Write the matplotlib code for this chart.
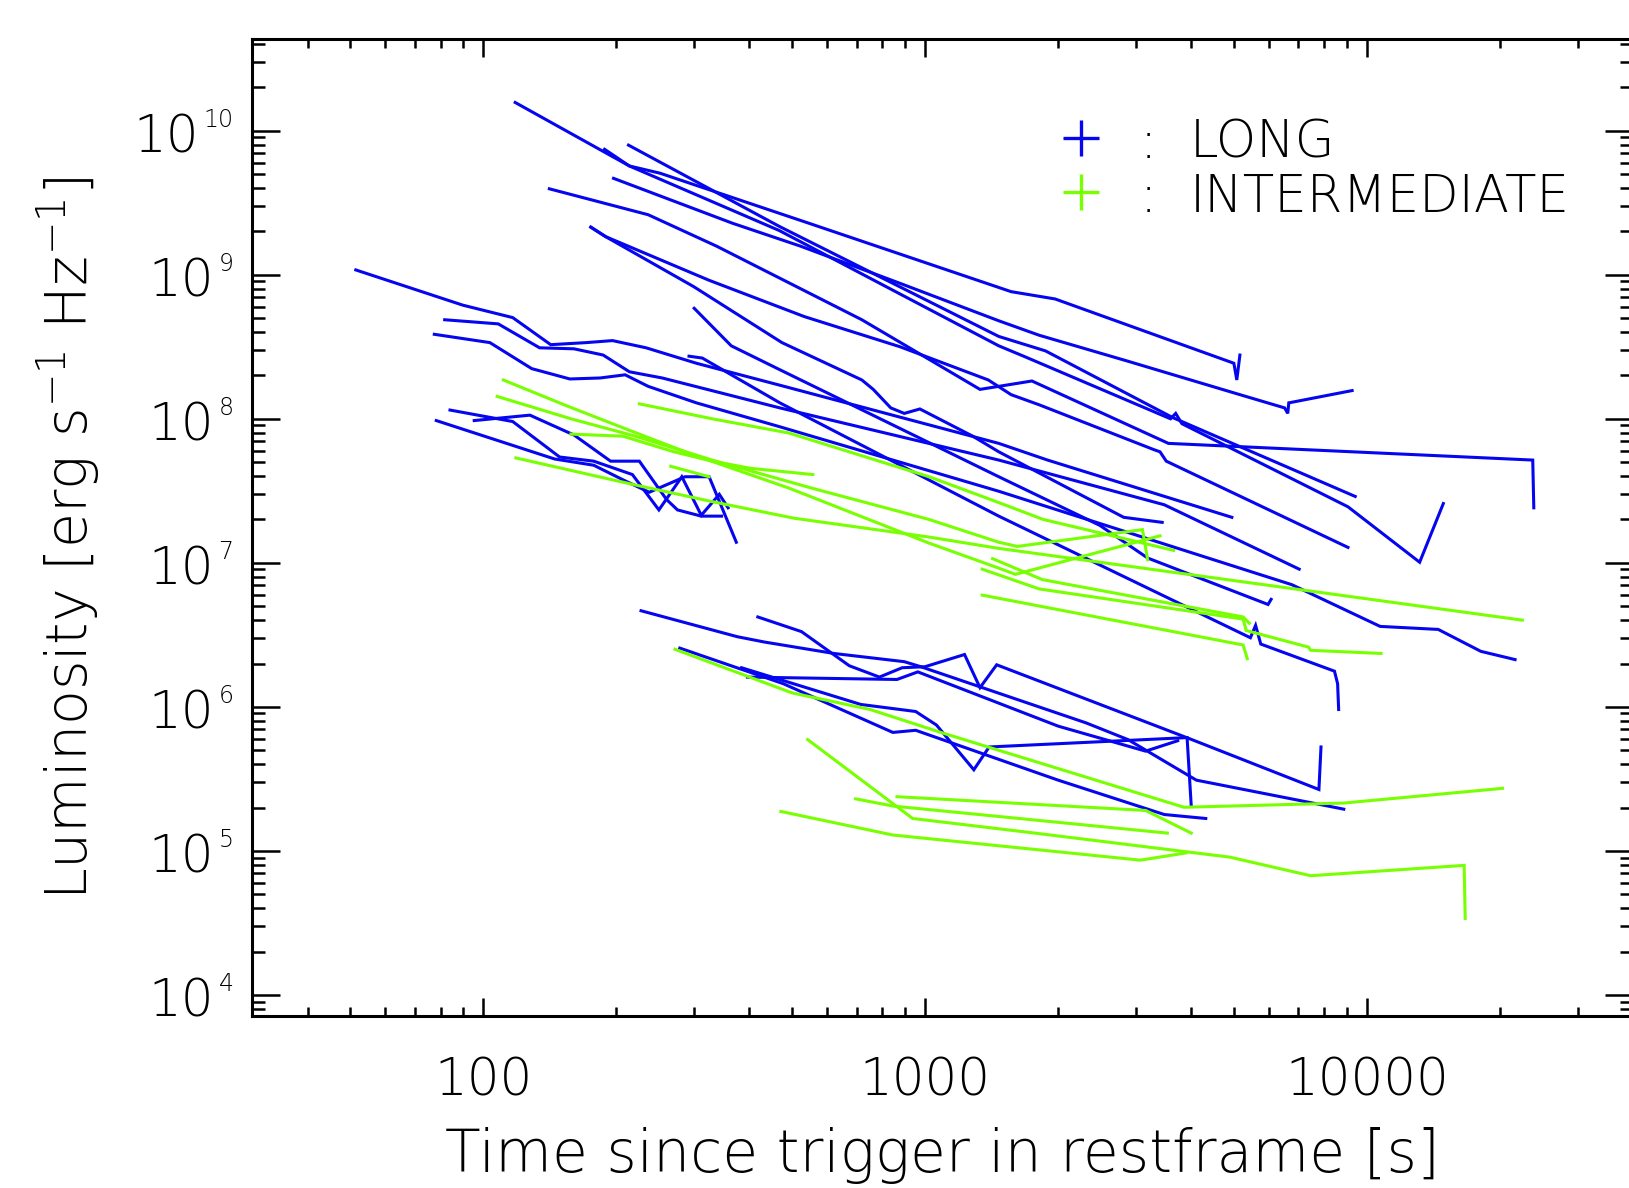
import numpy as np
import matplotlib.pyplot as plt
import matplotlib.transforms as mtransforms
from matplotlib.ticker import FixedLocator, LogLocator, NullFormatter

# light curves of LONG bursts (time in s, luminosity in erg/s/Hz)
lg01_t = [118, 214, 251, 545, 1566, 1969, 5000, 5077, 5160]
lg01_L = [1.57e10, 5.69e9, 5.07e9, 2.28e9, 7.63e8, 6.79e8, 2.43e8, 1.86e8, 2.77e8]
lg02_t = [188, 214, 467, 1468, 1671, 3594, 3692, 3813, 9063, 13170, 14900]
lg02_L = [7.43e9, 5.69e9, 2.03e9, 3.21e8, 2.72e8, 1.0e8, 1.09e8, 9.25e7, 2.45e7, 1.01e7, 2.58e7]
lg03_t = [213, 467, 1468, 1873, 3634, 9413]
lg03_L = [7.94e9, 2.17e9, 3.73e8, 2.96e8, 1.02e8, 2.89e7]
lg04_t = [197, 366, 522, 878, 1468, 1813, 2878, 5050, 6515, 6622, 6658, 9262]
lg04_L = [4.67e9, 2.28e9, 1.58e9, 8.71e8, 4.79e8, 3.80e8, 2.51e8, 1.50e8, 1.19e8, 1.09e8, 1.29e8, 1.57e8]
lg05_t = [141, 236, 337, 719, 1331, 1745, 3555, 23750, 23880]
lg05_L = [3.95e9, 2.61e9, 1.58e9, 4.87e8, 1.60e8, 1.83e8, 6.75e7, 5.17e7, 2.41e7]
lg06_t = [175, 189, 324, 533, 878, 1390, 1566, 1813, 3294, 3402, 3515, 9063]
lg06_L = [2.14e9, 1.84e9, 9.16e8, 5.12e8, 3.16e8, 1.86e8, 1.47e8, 1.25e8, 6.11e7, 5.90e7, 5.08e7, 1.28e7]
lg07_t = [175, 189, 299, 474, 719, 763, 836, 897, 973, 1282, 1468, 2816, 3441]
lg07_L = [2.14e9, 1.84e9, 8.28e8, 3.38e8, 1.86e8, 1.60e8, 1.19e8, 1.09e8, 1.17e8, 7.57e7, 5.90e7, 2.07e7, 1.91e7]
lg08_t = [300, 364, 469, 1468, 2486, 3190, 5975, 6072]
lg08_L = [5.85e8, 3.21e8, 2.19e8, 3.96e7, 1.82e7, 1.08e7, 5.14e6, 5.58e6]
lg09_t = [51.4, 89.8, 116.5, 142, 171, 196, 233.5, 303.5, 469, 1468, 1893, 4948]
lg09_L = [1.08e9, 6.15e8, 5.04e8, 3.27e8, 3.38e8, 3.49e8, 3.11e8, 2.43e8, 1.71e8, 6.75e7, 5.17e7, 2.07e7]
lg10_t = [292, 313, 469, 1468, 2433, 5450, 5600, 5753, 8448, 8587, 8634]
lg10_L = [2.72e8, 2.64e8, 1.29e8, 2.11e7, 9.98e6, 3.02e6, 3.68e6, 2.73e6, 1.77e6, 1.45e6, 9.59e5]
lg11_t = [81.7, 108, 134, 160.4, 186.7, 214, 254, 469, 1468, 3479, 7029]
lg11_L = [4.87e8, 4.56e8, 3.11e8, 3.06e8, 2.77e8, 2.12e8, 1.92e8, 1.19e8, 5.17e7, 2.53e7, 9.04e6]
lg12_t = [77.4, 103.4, 128.6, 156.9, 183.7, 209.3, 236, 303.5, 469, 1468, 6767, 10720, 14510, 18120, 21660]
lg12_L = [3.86e8, 3.38e8, 2.23e8, 1.89e8, 1.92e8, 2.02e8, 1.68e8, 1.29e8, 8.80e7, 3.14e7, 7.05e6, 3.62e6, 3.45e6, 2.43e6, 2.13e6]
lg13_t = [84, 116.5, 148.7, 177.7, 217.4, 249.6, 281.3, 311.3, 342, 358]
lg13_L = [1.15e8, 9.57e7, 5.43e7, 5.08e7, 4.10e7, 2.33e7, 3.96e7, 2.14e7, 2.99e7, 2.41e7]
lg14_t = [95.3, 127.4, 160.4, 194, 225.4, 259.8, 275, 311.3, 346]
lg14_L = [9.72e7, 1.06e8, 7.71e7, 5.08e7, 5.08e7, 2.75e7, 2.33e7, 2.11e7, 2.11e7]
lg15_t = [78.2, 144.9, 177.7, 207, 237.3, 286, 324.3, 373.7]
lg15_L = [9.72e7, 5.26e7, 4.76e7, 3.77e7, 3.09e7, 3.96e7, 3.96e7, 1.39e7]
lg16_t = [227.4, 375.7, 432.6, 621, 897, 978, 2318, 2878, 4113, 8867]
lg16_L = [4.65e6, 3.07e6, 2.82e6, 2.35e6, 2.06e6, 1.90e6, 7.73e5, 5.93e5, 3.10e5, 1.95e5]
lg17_t = [418, 525, 673.5, 788, 887, 999, 1228, 1331, 1452, 3960, 7790, 7875]
lg17_L = [4.21e6, 3.33e6, 1.93e6, 1.61e6, 1.87e6, 1.90e6, 2.31e6, 1.36e6, 1.96e6, 6.03e5, 2.67e5, 5.27e5]
lg18_t = [384, 715, 952, 1061, 1289, 1396, 3918, 4004]
lg18_L = [1.87e6, 1.04e6, 9.29e5, 7.48e5, 3.66e5, 5.27e5, 6.12e5, 2.05e5]
lg19_t = [278.3, 477, 845, 952, 2001, 3479, 4319]
lg19_L = [2.56e6, 1.45e6, 6.65e5, 6.88e5, 3.10e5, 1.79e5, 1.68e5]
lg20_t = [396, 863.5, 962.7, 2001, 3156, 3731]
lg20_L = [1.61e6, 1.55e6, 1.75e6, 7.35e5, 4.93e5, 5.82e5]

# light curves of INTERMEDIATE bursts
im01_t = [110.9, 154.4, 212.7, 298.6, 492, 1021, 1468, 1601, 3402]
im01_L = [1.86e8, 1.23e8, 8.38e7, 5.62e7, 3.30e7, 1.37e7, 9.19e6, 8.32e6, 1.54e7]
im02_t = [107.4, 157.8, 220.9, 329.5, 554, 1021, 1468, 1618, 3105, 3190]
im02_L = [1.43e8, 1.0e8, 7.57e7, 5.17e7, 3.30e7, 2.0e7, 1.39e7, 1.30e7, 1.70e7, 1.05e7]
im03_t = [157.8, 207, 270, 329.5, 402.5, 557]
im03_L = [7.83e7, 7.57e7, 5.90e7, 5.08e7, 4.53e7, 4.10e7]
im04_t = [225.4, 329.5, 492, 1021, 1468, 1852, 3654]
im04_L = [1.27e8, 1.0e8, 7.96e7, 3.96e7, 2.62e7, 2.0e7, 1.22e7]
im05_t = [118.4, 220.9, 329.5, 505.5, 1021, 1468, 2486, 7150, 22500]
im05_L = [5.35e7, 3.47e7, 2.66e7, 2.04e7, 1.51e7, 1.26e7, 1.01e7, 6.48e6, 4.0e6]
im06_t = [265.5, 324.3]
im06_L = [4.68e7, 3.96e7]
im07_t = [1421, 1842, 5247, 5420]
im07_L = [1.07e7, 7.65e6, 4.21e6, 3.81e6]
im08_t = [1346, 1813, 5247, 5333, 7379, 7460, 10770]
im08_L = [9.04e6, 6.59e6, 4.07e6, 3.39e6, 2.60e6, 2.47e6, 2.35e6]
im09_t = [1346, 5247, 5362]
im09_L = [5.97e6, 2.69e6, 2.16e6]
im10_t = [271.5, 500, 751, 1102, 3855, 8867, 20290]
im10_L = [2.51e6, 1.25e6, 9.59e5, 6.55e5, 2.01e5, 2.15e5, 2.72e5]
im11_t = [542, 937, 1772, 4892, 7460, 16610, 16700]
im11_L = [5.93e5, 1.68e5, 1.33e5, 9.06e4, 6.73e4, 7.94e4, 3.40e4]
im12_t = [471.4, 845, 3072, 3897]
im12_L = [1.88e5, 1.29e5, 8.63e4, 9.69e4]
im13_t = [696, 845, 3535]
im13_L = [2.30e5, 2.05e5, 1.33e5]
im14_t = [863.5, 3156, 4004]
im14_L = [2.38e5, 1.91e5, 1.33e5]

long_curves = [(lg01_t, lg01_L), (lg02_t, lg02_L), (lg03_t, lg03_L), (lg04_t, lg04_L),
               (lg05_t, lg05_L), (lg06_t, lg06_L), (lg07_t, lg07_L), (lg08_t, lg08_L),
               (lg09_t, lg09_L), (lg10_t, lg10_L), (lg11_t, lg11_L), (lg12_t, lg12_L),
               (lg13_t, lg13_L), (lg14_t, lg14_L), (lg15_t, lg15_L), (lg16_t, lg16_L),
               (lg17_t, lg17_L), (lg18_t, lg18_L), (lg19_t, lg19_L), (lg20_t, lg20_L)]
inter_curves = [(im01_t, im01_L), (im02_t, im02_L), (im03_t, im03_L), (im04_t, im04_L),
                (im05_t, im05_L), (im06_t, im06_L), (im07_t, im07_L), (im08_t, im08_L),
                (im09_t, im09_L), (im10_t, im10_L), (im11_t, im11_L), (im12_t, im12_L),
                (im13_t, im13_L), (im14_t, im14_L)]

x_ticks = [100, 1000, 10000]
x_ticklabels = ['100', '1000', '10000']
y_exponents = [4, 5, 6, 7, 8, 9, 10]

BLUE = '#0505f0'
GREEN = '#78ff00'
W = 200  # thin strokes, like the IDL vector font

plt.rcParams['font.family'] = ['DejaVu Sans']
plt.rcParams['font.weight'] = W
plt.rcParams['axes.labelweight'] = W
plt.rcParams['mathtext.fontset'] = 'custom'
plt.rcParams['mathtext.rm'] = 'DejaVu Sans:extralight'
plt.rcParams['mathtext.it'] = 'DejaVu Sans:extralight'

fig = plt.figure(figsize=(16.29, 11.88), dpi=100)
ax = fig.add_axes([0.155, 0.1448, 0.8473, 0.822])

for t, L in long_curves:
    ax.plot(t, L, color=BLUE, lw=2.2, solid_joinstyle='miter')
for t, L in inter_curves:
    ax.plot(t, L, color=GREEN, lw=2.2, solid_joinstyle='miter')

ax.set_xscale('log')
ax.set_yscale('log')
ax.set_xlim(30, 40000)
ax.set_ylim(7.15e3, 4.3e10)

ax.xaxis.set_major_locator(FixedLocator(x_ticks))
ax.set_xticklabels(x_ticklabels)
ax.xaxis.set_minor_locator(LogLocator(base=10, subs=np.arange(2, 10), numticks=20))
ax.xaxis.set_minor_formatter(NullFormatter())
ax.yaxis.set_major_locator(FixedLocator([10.0 ** e for e in y_exponents]))
ax.set_yticklabels([''] * len(y_exponents))
ax.yaxis.set_minor_locator(LogLocator(base=10, subs=np.arange(2, 10), numticks=20))
ax.yaxis.set_minor_formatter(NullFormatter())

ax.tick_params(which='both', direction='in', top=True, right=True, width=1.8, labelsize=37)
ax.tick_params(axis='x', which='major', length=13, pad=29)
ax.tick_params(axis='x', which='minor', length=6.5)
ax.tick_params(axis='y', which='major', length=20)
ax.tick_params(axis='y', which='minor', length=9.5)
for s in ax.spines.values():
    s.set_linewidth(2.2)

# y tick labels drawn as IDL does: "10" with a small exponent
blend = mtransforms.blended_transform_factory(ax.transAxes, ax.transData)
base_tr = mtransforms.offset_copy(blend, fig=fig, x=0, y=-15.6, units='points')
exp_tr = mtransforms.offset_copy(blend, fig=fig, x=0, y=2.8, units='points')
x_exp_right = (233.5 - 252.5) / 1380.3
for e in y_exponents:
    s = str(e)
    x_base_right = (233.5 - 15.3 * len(s) - 4.0 - 252.5) / 1380.3
    ax.text(x_base_right, 10.0 ** e, '10', fontsize=37, ha='right', va='baseline',
            transform=base_tr, clip_on=False)
    ax.text(x_exp_right, 10.0 ** e, s, fontsize=17, ha='right', va='baseline',
            transform=exp_tr, clip_on=False)

ax.set_xlabel('Time since trigger in restframe [s]', fontsize=42, fontweight=W)
ax.xaxis.set_label_coords(0.5, -0.114)
ax.set_ylabel(r'Luminosity [erg s$^{-1}$ Hz$^{-1}$]', fontsize=41, fontweight=W)
ax.yaxis.set_label_coords(-0.108, 0.489)

# legend
ax.plot([0.600], [0.899], marker='+', ms=26, mew=2.4, color=BLUE, transform=ax.transAxes, clip_on=False)
ax.plot([0.600], [0.844], marker='+', ms=26, mew=2.4, color=GREEN, transform=ax.transAxes, clip_on=False)
ax.text(0.6488, 0.8786, ':', fontsize=37, ha='center', va='baseline', transform=ax.transAxes)
ax.text(0.6488, 0.8233, ':', fontsize=37, ha='center', va='baseline', transform=ax.transAxes)
ax.text(0.679, 0.8786, 'LONG', fontsize=37, ha='left', va='baseline', transform=ax.transAxes)
ax.text(0.679, 0.8233, 'INTERMEDIATE', fontsize=37, ha='left', va='baseline', transform=ax.transAxes)

fig.savefig('out.png', dpi=100)
